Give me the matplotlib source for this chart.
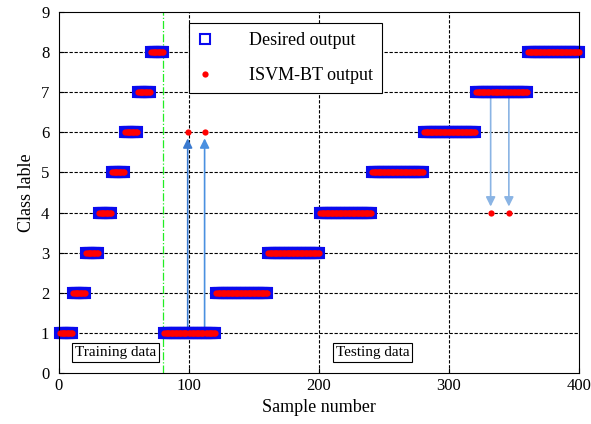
import numpy as np
import matplotlib.pyplot as plt

plt.rcParams['font.family'] = ['Liberation Serif', 'DejaVu Serif']

# class labels in order, training (10 per class) then testing (40 per class)
classes = [1, 2, 3, 4, 5, 6, 7, 8]
train_per_class = 10
test_per_class = 40
# misclassified samples: sample number -> predicted class
wrong_samples = [99, 112, 332, 346]
wrong_preds = [6, 6, 4, 4]

desired = []
for c in classes:
    desired += [c] * train_per_class
for c in classes:
    desired += [c] * test_per_class
desired = np.array(desired)
samples = np.arange(1, len(desired) + 1)

predicted = desired.copy()
for s, p in zip(wrong_samples, wrong_preds):
    predicted[s - 1] = p

fig = plt.figure(figsize=(5.91, 4.24), dpi=100)
ax = fig.add_axes([0.0998, 0.1203, 0.88, 0.8514])

# grid
for y in range(1, 9):
    ax.axhline(y, color='black', ls=(0, (3, 1.5)), lw=0.8, zorder=0)
for x in [100, 200, 300]:
    ax.axvline(x, color='black', ls=(0, (3, 1.5)), lw=0.8, zorder=0)
ax.axvline(80, color='#22ee22', ls='-.', lw=0.9, zorder=0)

ax.plot(samples, desired, 's', mfc='none', mec='#0a0aee', ms=7, mew=1.5,
        label='Desired output', zorder=2, clip_on=False)
ax.plot(samples, predicted, 'o', color='red', ms=4.5, mew=0,
        label='ISVM-BT output', zorder=3, clip_on=False)

# arrows from desired to wrong prediction
arrow_cols = ['#3a7ad0', '#4a90e0', '#8ab4e4', '#8ab4e4']
for s, p, col in zip(wrong_samples, wrong_preds, arrow_cols):
    d = desired[s - 1]
    end = p - 0.15 if p > d else p + 0.15
    ax.annotate('', xy=(s, end), xytext=(s, d),
                arrowprops=dict(arrowstyle='-|>', color=col, lw=1.2,
                                mutation_scale=14, shrinkA=0, shrinkB=0),
                zorder=1)

ax.text(12, 0.42, 'Training data', fontsize=11,
        bbox=dict(facecolor='white', edgecolor='black', lw=0.8, pad=2))
ax.text(213, 0.42, 'Testing data', fontsize=11,
        bbox=dict(facecolor='white', edgecolor='black', lw=0.8, pad=2))

ax.set_xlim(0, 400)
ax.set_ylim(0, 9)
ax.set_xticks([0, 100, 200, 300, 400])
ax.set_yticks(range(0, 10))
ax.tick_params(direction='in', labelsize=12)
ax.tick_params(axis='y', pad=7)
ax.set_xlabel('Sample number', fontsize=13)
ax.set_ylabel('Class lable', fontsize=13)

leg = ax.legend(loc='upper left', bbox_to_anchor=(0.25, 0.97), fontsize=13,
                fancybox=False, edgecolor='black', framealpha=1,
                labelspacing=1.0, handlelength=0.8, handletextpad=2.0,
                borderpad=0.5, borderaxespad=0)
leg.get_frame().set_linewidth(0.8)

fig.savefig('out.png', dpi=100)
